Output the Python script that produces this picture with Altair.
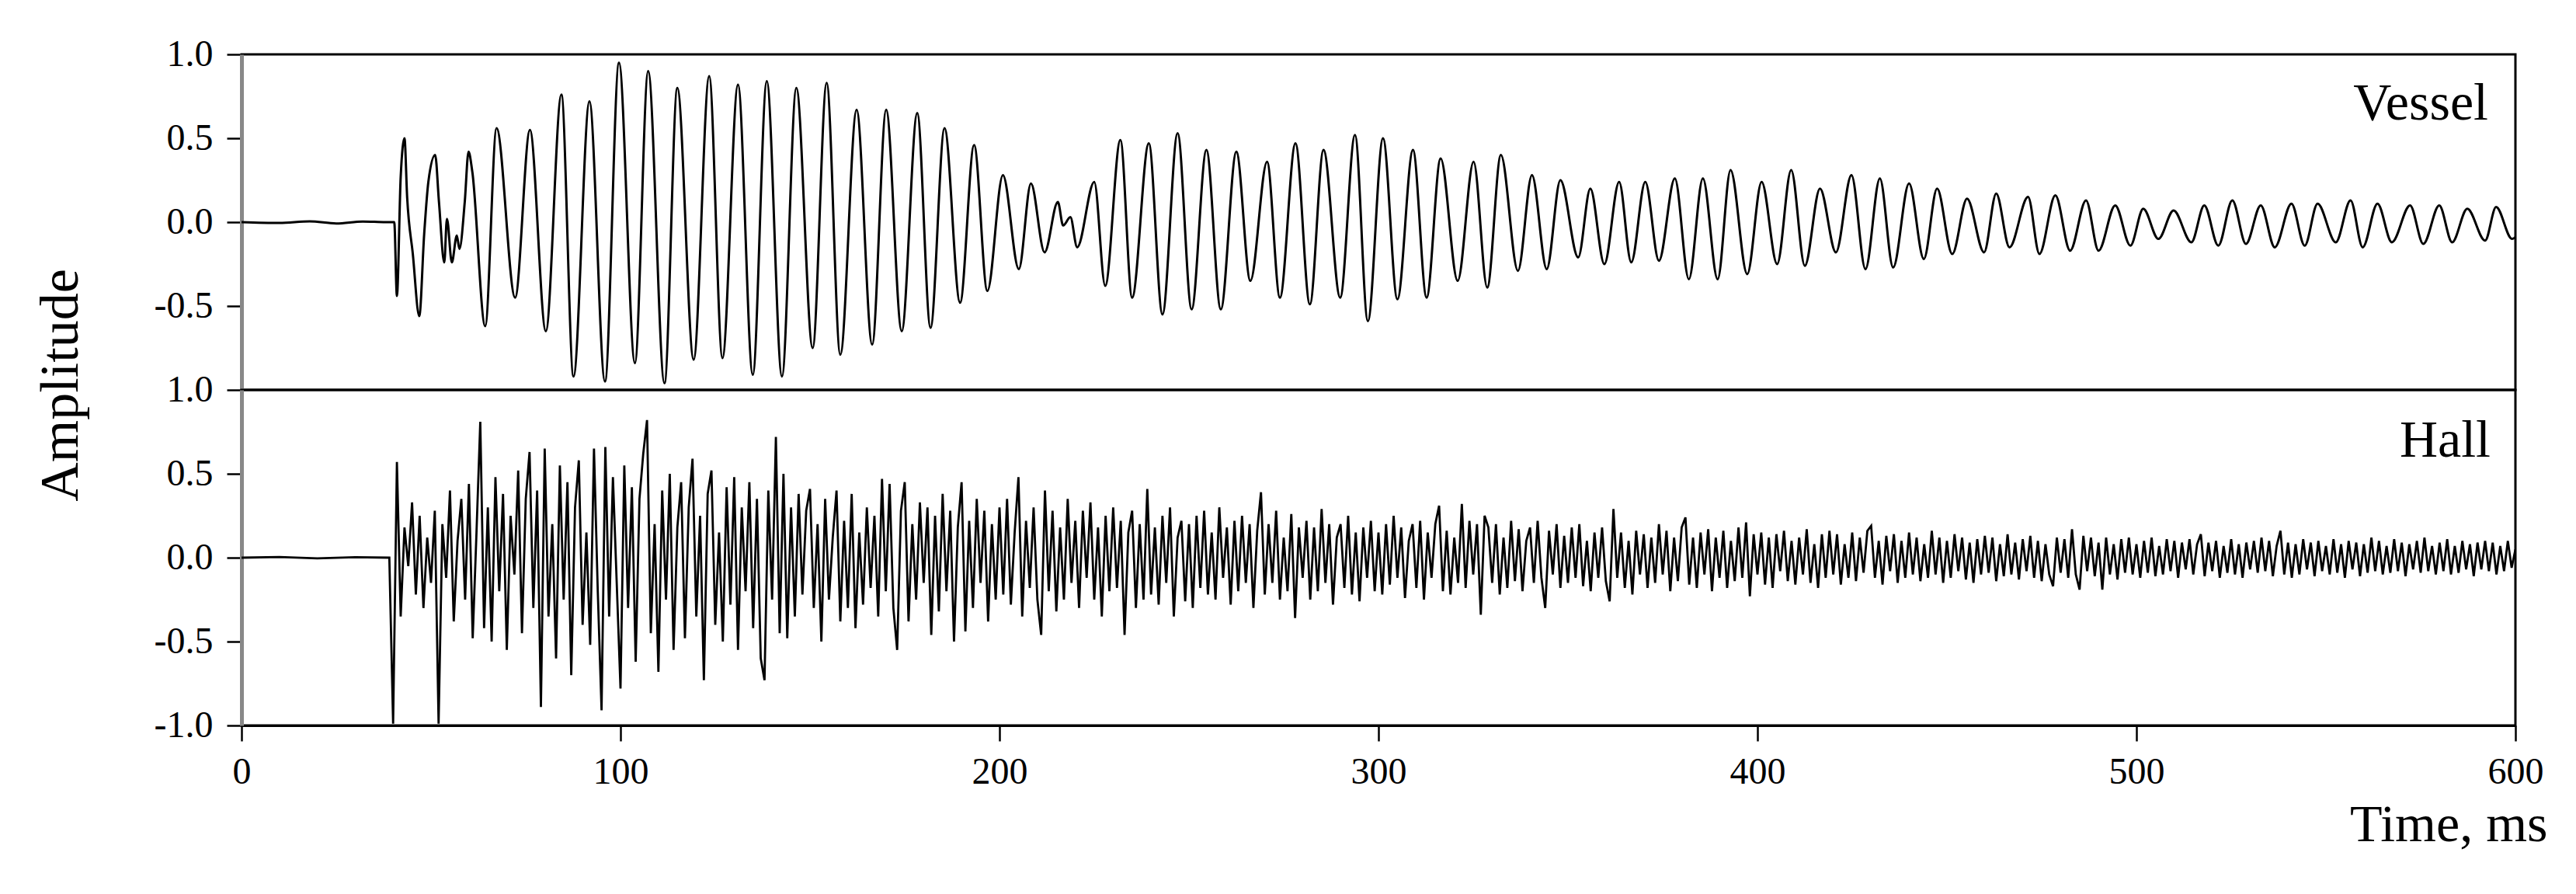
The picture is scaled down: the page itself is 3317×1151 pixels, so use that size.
import altair as alt
import pandas as pd

FONT = "Liberation Serif"

# ---------------- data ----------------
# Vessel: extrema of the waveform (time in ms, amplitude)
vessel_time = [0, 10, 18, 25, 32, 38, 40.3,
               41.0, 42.0, 43.0, 43.7, 45.2, 46.9, 48.2, 49.3, 51.1, 52.1,
               53.5, 54.2, 55.5, 56.8, 57.5, 58.9, 59.9, 60.9, 64.3, 67.3,
               72.2, 76.1, 80.3, 84.4, 87.6, 91.8, 95.9, 99.6, 103.8, 107.3,
               111.6, 115.0, 119.3, 123.4, 126.9, 131.0, 134.9, 138.6, 142.6, 146.4,
               150.7, 154.4, 158.0, 162.3, 166.4, 170.1, 174.2, 178.3, 181.8, 185.5,
               189.6, 193.3, 196.8, 200.9, 205.1, 208.3, 211.9, 215.4, 216.8, 218.7,
               220.5, 225.0, 227.9, 231.9, 235.0, 239.4, 243.0, 247.0, 250.7, 254.6,
               258.4, 262.5, 266.2, 270.6, 274.0, 278.1, 281.9, 285.5, 289.9, 293.8,
               297.2, 301.2, 305.0, 309.1, 312.7, 316.4, 320.9, 325.1, 328.7, 332.3,
               336.8, 340.5, 344.4, 348.0, 352.7, 355.9, 359.6, 363.5, 366.7, 370.4,
               374.0, 378.2, 381.9, 385.6, 389.5, 392.9, 397.3, 401.1, 405.2, 408.9,
               412.5, 416.5, 420.7, 424.8, 428.5, 432.3, 435.8, 440.0, 443.9, 447.4,
               451.4, 455.3, 459.8, 463.0, 466.5, 471.4, 474.4, 478.6, 482.5, 486.7,
               490.0, 494.4, 498.4, 501.8, 505.8, 509.8, 514.5, 517.9, 521.6, 525.3,
               528.9, 532.8, 536.5, 540.9, 544.4, 547.8, 552.6, 556.5, 559.7, 563.6,
               567.4, 572.2, 575.7, 579.9, 583.3, 587.3, 592.0, 594.9, 599.1, 600]
vessel_amp = [0.0, -0.005, 0.005, -0.008, 0.004, 0.0, 0.0,
              -0.44, 0.27, 0.50, 0.15, -0.19, -0.56, -0.07, 0.24, 0.40, 0.12,
              -0.24, 0.02, -0.24, -0.08, -0.16, 0.12, 0.42, 0.30, -0.62, 0.56,
              -0.45, 0.55, -0.65, 0.76, -0.92, 0.72, -0.95, 0.95, -0.84, 0.90,
              -0.96, 0.80, -0.82, 0.87, -0.81, 0.82, -0.91, 0.84, -0.92, 0.80,
              -0.75, 0.83, -0.79, 0.67, -0.73, 0.67, -0.65, 0.65, -0.63, 0.56,
              -0.48, 0.46, -0.41, 0.28, -0.28, 0.23, -0.18, 0.12, -0.02, 0.03,
              -0.15, 0.24, -0.38, 0.49, -0.45, 0.47, -0.55, 0.53, -0.52, 0.43,
              -0.52, 0.42, -0.35, 0.36, -0.45, 0.47, -0.49, 0.43, -0.45, 0.52,
              -0.59, 0.50, -0.46, 0.43, -0.45, 0.38, -0.35, 0.36, -0.39, 0.40,
              -0.29, 0.28, -0.28, 0.25, -0.21, 0.20, -0.25, 0.24, -0.24, 0.24,
              -0.23, 0.26, -0.34, 0.26, -0.34, 0.31, -0.31, 0.24, -0.25, 0.31,
              -0.26, 0.20, -0.18, 0.28, -0.28, 0.26, -0.27, 0.23, -0.22, 0.20,
              -0.19, 0.14, -0.18, 0.17, -0.15, 0.15, -0.19, 0.16, -0.17, 0.13,
              -0.17, 0.10, -0.14, 0.08, -0.10, 0.07, -0.12, 0.10, -0.14, 0.13,
              -0.13, 0.10, -0.15, 0.11, -0.14, 0.11, -0.12, 0.13, -0.15, 0.11,
              -0.12, 0.10, -0.13, 0.10, -0.12, 0.08, -0.11, 0.09, -0.10, -0.09]

# Hall: flat part before onset, then samples every 1 ms from 40 ms
hall_pre_time = [0, 10, 20, 30, 39]
hall_pre_amp = [0.0, 0.004, -0.004, 0.003, 0.0]
hall_amp_1ms = [
    -0.99, 0.57, -0.35, 0.18, -0.05, 0.33, -0.22, 0.25, -0.30, 0.12,   # 40
    -0.15, 0.28, -0.99, 0.20, -0.12, 0.40, -0.38, 0.10, 0.35, -0.25,   # 50
    0.44, -0.48, 0.15, 0.81, -0.42, 0.30, -0.50, 0.48, -0.20, 0.38,    # 60
    -0.55, 0.25, -0.10, 0.52, -0.45, 0.35, 0.63, -0.30, 0.40, -0.89,   # 70
    0.65, -0.35, 0.20, -0.60, 0.55, -0.25, 0.45, -0.70, 0.30, 0.58,    # 80
    -0.40, 0.15, -0.52, 0.65, -0.20, -0.91, 0.66, -0.35, 0.48, -0.15,  # 90
    -0.78, 0.55, -0.30, 0.42, -0.62, 0.35, 0.62, 0.82, -0.45, 0.20,    # 100
    -0.68, 0.40, -0.25, 0.50, -0.55, 0.18, 0.45, -0.48, 0.30, 0.59,    # 110
    -0.35, 0.25, -0.73, 0.38, 0.52, -0.40, 0.15, -0.50, 0.42, -0.28,   # 120
    0.48, -0.55, 0.30, -0.20, 0.45, -0.42, 0.35, -0.60, -0.73, 0.40,   # 130
    -0.25, 0.72, -0.45, 0.50, -0.48, 0.30, -0.35, 0.38, -0.22, 0.28,   # 140
    0.41, -0.30, 0.20, -0.50, 0.35, -0.25, 0.12, 0.40, -0.38, 0.22,    # 150
    -0.30, 0.38, -0.42, 0.15, -0.28, 0.30, -0.18, 0.25, -0.35, 0.47,   # 160
    -0.20, 0.44, -0.30, -0.55, 0.28, 0.45, -0.38, 0.20, -0.25, 0.33,   # 170
    -0.15, 0.30, -0.46, 0.25, -0.32, 0.38, -0.20, 0.28, -0.50, 0.18,   # 180
    0.45, -0.44, 0.22, -0.30, 0.35, -0.15, 0.28, -0.38, 0.20, -0.25,   # 190
    0.30, -0.22, 0.35, -0.28, 0.15, 0.48, -0.35, 0.22, -0.18, 0.30,    # 200
    -0.25, -0.46, 0.40, -0.20, 0.28, -0.32, 0.18, -0.25, 0.35, -0.15,  # 210
    0.22, -0.30, 0.28, -0.12, 0.33, -0.25, 0.18, -0.35, 0.25, -0.20,   # 220
    0.30, -0.18, 0.22, -0.46, 0.15, 0.28, -0.30, 0.20, -0.25, 0.41,    # 230
    -0.22, 0.18, -0.28, 0.25, -0.15, 0.30, -0.35, 0.12, 0.22, -0.26,   # 240
    0.20, -0.30, 0.25, -0.18, 0.28, -0.22, 0.15, -0.25, 0.30, -0.12,   # 250
    0.18, -0.28, 0.22, -0.20, 0.25, -0.15, 0.20, -0.30, 0.16, 0.39,    # 260
    -0.22, 0.20, -0.15, 0.28, -0.25, 0.12, -0.20, 0.26, -0.36, 0.18,   # 270
    -0.12, 0.22, -0.25, 0.18, -0.20, 0.29, -0.15, 0.20, -0.28, 0.12,   # 280
    0.20, -0.18, 0.25, -0.22, 0.15, -0.26, 0.18, -0.12, 0.22, -0.20,   # 290
    0.15, -0.22, 0.20, -0.16, 0.25, -0.12, 0.18, -0.24, 0.10, 0.20,    # 300
    -0.18, 0.22, -0.25, 0.15, -0.12, 0.20, 0.31, -0.20, 0.16, -0.22,   # 310
    0.12, -0.15, 0.32, -0.18, 0.22, -0.10, 0.20, -0.34, 0.25, 0.18,    # 320
    -0.15, 0.20, -0.22, 0.12, -0.18, 0.22, -0.14, 0.17, -0.20, 0.10,   # 330
    0.18, -0.15, 0.22, -0.12, -0.30, 0.16, -0.10, 0.20, -0.18, 0.13,   # 340
    -0.15, 0.18, -0.12, 0.20, -0.17, 0.10, -0.20, 0.15, -0.12, 0.18,   # 350
    -0.14, -0.26, 0.29, -0.12, 0.15, -0.18, 0.10, -0.22, 0.16, -0.10,  # 360
    0.14, -0.18, 0.12, -0.15, 0.20, -0.10, 0.16, -0.20, 0.12, -0.14,   # 370
    0.18, 0.24, -0.16, 0.12, -0.18, 0.15, -0.10, 0.17, -0.20, 0.12,    # 380
    -0.12, 0.16, -0.18, 0.10, -0.14, 0.18, -0.12, 0.21, -0.23, 0.14,   # 390
    -0.10, 0.15, -0.16, 0.12, -0.18, 0.14, -0.08, 0.16, -0.14, 0.10,   # 400
    -0.16, 0.12, -0.10, 0.17, -0.15, 0.08, -0.18, 0.14, -0.12, 0.16,   # 410
    -0.10, 0.14, -0.16, 0.08, -0.12, 0.15, -0.14, 0.12, -0.09, 0.16,   # 420
    0.19, -0.12, 0.10, -0.16, 0.13, -0.08, 0.14, -0.15, 0.10, -0.12,   # 430
    0.15, -0.10, 0.12, -0.14, 0.08, -0.12, 0.16, -0.10, 0.12, -0.15,   # 440
    0.10, -0.12, 0.14, -0.08, 0.12, -0.13, 0.09, -0.15, 0.11, -0.10,   # 450
    0.13, -0.09, 0.12, -0.14, 0.08, -0.11, 0.14, -0.10, 0.09, -0.13,   # 460
    0.11, -0.08, 0.13, -0.12, 0.10, -0.14, 0.08, -0.10, -0.17, 0.12,   # 470
    -0.09, 0.11, -0.12, 0.17, -0.10, -0.19, 0.13, -0.08, 0.12, -0.11,  # 480
    0.09, -0.19, 0.12, -0.10, 0.08, -0.13, 0.11, -0.09, 0.12, -0.10,   # 490
    0.08, -0.12, 0.10, -0.09, 0.12, -0.11, 0.07, -0.10, 0.11, -0.08,   # 500
    0.10, -0.12, 0.09, -0.07, 0.11, -0.10, 0.08, 0.14, -0.11, 0.09,    # 510
    -0.08, 0.10, -0.12, 0.07, -0.09, 0.11, -0.10, 0.08, -0.12, 0.09,   # 520
    -0.07, 0.10, -0.09, 0.12, -0.08, 0.10, -0.11, 0.07, 0.16, -0.10,   # 530
    0.09, -0.12, 0.08, -0.10, 0.11, -0.07, 0.09, -0.11, 0.10, -0.08,   # 540
    0.07, -0.10, 0.11, -0.09, 0.08, -0.12, 0.10, -0.07, 0.09, -0.11,   # 550
    0.08, -0.09, 0.12, -0.08, 0.10, -0.10, 0.07, -0.09, 0.11, -0.08,   # 560
    0.09, -0.11, 0.08, -0.07, 0.10, -0.09, 0.12, -0.08, 0.07, -0.10,   # 570
    0.09, -0.08, 0.11, -0.10, 0.07, -0.09, 0.10, -0.07, 0.08, -0.11,   # 580
    0.09, -0.07, 0.10, -0.08, 0.09, -0.10, 0.07, -0.08, 0.10, -0.06,   # 590
    0.05,                                                              # 600
]
hall_time = hall_pre_time + [40 + i for i in range(len(hall_amp_1ms))]
hall_amp = hall_pre_amp + hall_amp_1ms

x_ticks = [0, 100, 200, 300, 400, 500, 600]
y_ticks_top = [-0.5, 0.0, 0.5, 1.0]
y_ticks_bottom = [-1.0, -0.5, 0.0, 0.5, 1.0]
panel_labels = ["Vessel", "Hall"]
y_title = "Amplitude"
x_title = "Time, ms"

vdf = pd.DataFrame({"t": vessel_time, "a": vessel_amp})
hdf = pd.DataFrame({"t": hall_time, "a": hall_amp})

# ---------------- chart ----------------
W, H = 2928, 432
xscale = alt.Scale(domain=[0, 600], nice=False, zero=False)
yscale = alt.Scale(domain=[-1, 1], nice=False)
label_expr = "datum.value < 0 ? '-' + format(-datum.value, '.1f') : format(datum.value, '.1f')"


def y_axis(vals):
    return alt.Axis(values=vals, title=None, labelExpr=label_expr, labelFont=FONT,
                    labelFontSize=48, labelColor="black", labelPadding=18, tickSize=19,
                    tickColor="black", tickWidth=2.5, domainColor="#888888", domainWidth=5,
                    grid=False, labelFlush=False, labelOverlap=False)


top_line = alt.Chart(vdf).mark_line(color="black", strokeWidth=3, interpolate="monotone",
                                    clip=True).encode(
    x=alt.X("t:Q", scale=xscale, axis=None),
    y=alt.Y("a:Q", scale=yscale, axis=y_axis(y_ticks_top)),
)
top_text = alt.Chart(pd.DataFrame({"label": [panel_labels[0]]})).mark_text(
    align="right", baseline="alphabetic", font=FONT, fontSize=68, color="black"
).encode(x=alt.value(2893), y=alt.value(84), text="label:N")
top = alt.layer(top_line, top_text).properties(width=W, height=H)

bottom_line = alt.Chart(hdf).mark_line(color="black", strokeWidth=2.8, clip=True).encode(
    x=alt.X("t:Q", scale=xscale,
            axis=alt.Axis(values=x_ticks, format="d", title=x_title, titleFont=FONT,
                          titleFontSize=68, titleFontWeight="normal", titleColor="black",
                          titleAnchor="end", titleAlign="right", titleX=2969, titleY=148,
                          titleBaseline="alphabetic", labelFont=FONT, labelFontSize=48,
                          labelColor="black", tickSize=20, tickColor="black", tickWidth=2.5,
                          labelPadding=16, domainColor="black", domainWidth=3, grid=False,
                          labelFlush=False)),
    y=alt.Y("a:Q", scale=yscale, axis=y_axis(y_ticks_bottom)),
)
bottom_text = alt.Chart(pd.DataFrame({"label": [panel_labels[1]]})).mark_text(
    align="right", baseline="alphabetic", font=FONT, fontSize=68, color="black"
).encode(x=alt.value(2896), y=alt.value(86), text="label:N")
ytitle_text = alt.Chart(pd.DataFrame({"label": [y_title]})).mark_text(
    align="center", baseline="middle", angle=270, font=FONT, fontSize=70, color="black"
).encode(x=alt.value(-232), y=alt.value(-6), text="label:N")
bottom = alt.layer(bottom_line, bottom_text, ytitle_text).properties(width=W, height=H)

chart = alt.vconcat(top, bottom, spacing=0, bounds="flush").configure_view(
    stroke="black", strokeWidth=3
).properties(padding={"left": 34, "top": 36, "right": 10, "bottom": 10})

chart.save("out.html", embed_options={"renderer": "svg", "actions": False})
